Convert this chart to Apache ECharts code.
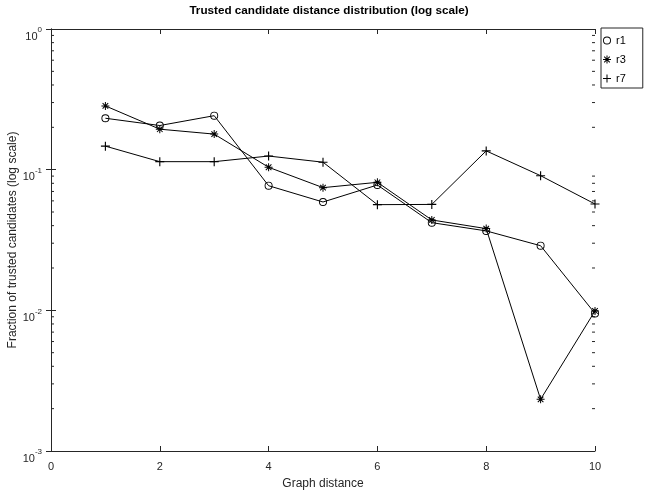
<!DOCTYPE html>
<html>
<head>
<meta charset="utf-8">
<script src="https://cdn.jsdelivr.net/npm/echarts@6/dist/echarts.min.js"></script>
<style>html,body{margin:0;padding:0;background:#fff;}#c{width:645px;height:491px;}</style>
</head>
<body>
<div id="c"></div>
<script>
const distances = [1, 2, 3, 4, 5, 6, 7, 8, 9, 10];
const r1 = [0.232, 0.206, 0.242, 0.0769, 0.0589, 0.0778, 0.042, 0.0367, 0.0288, 0.0095];
const r3 = [0.284, 0.194, 0.179, 0.104, 0.0745, 0.0813, 0.0439, 0.0381, 0.00233, 0.0099];
const r7 = [0.147, 0.114, 0.114, 0.125, 0.113, 0.0564, 0.0566, 0.136, 0.0906, 0.057];
const seriesNames = ['r1', 'r3', 'r7'];
const yTickExponents = {'0.001': '-3', '0.01': '-2', '0.1': '-1', '1': '0'};
const minorMultipliers = [2, 3, 4, 5, 6, 7, 8, 9];
const minorDecades = [0.001, 0.01, 0.1];

const FONT = 'Liberation Sans';
const AX = '#262626';
const ringPath = 'path://M4,0 A4,4 0 1,1 4,8 A4,4 0 1,1 4,0 Z M4,0.9 A3.1,3.1 0 1,0 4,7.1 A3.1,3.1 0 1,0 4,0.9 Z';
const plusPath = 'path://M3.5,0 H4.5 V3.5 H8 V4.5 H4.5 V8 H3.5 V4.5 H0 V3.5 H3.5 Z';
const starPath = 'path://M3.5,0 L4.5,0 L4.5,8 L3.5,8 Z M0,3.5 L8,3.5 L8,4.5 L0,4.5 Z M1.55,0.85 L7.15,6.45 L6.45,7.15 L0.85,1.55 Z M7.15,1.55 L1.55,7.15 L0.85,6.45 L6.45,0.85 Z';

const pairs = arr => distances.map((d, i) => [d, arr[i]]);
const minorData = [];
minorDecades.forEach(dec => minorMultipliers.forEach(m => minorData.push([0, m * dec])));

const chart = echarts.init(document.getElementById('c'), null, {renderer: 'canvas'});
const yAxisBase = {
  type: 'log', logBase: 10, min: 0.001, max: 1, splitNumber: 3,
  axisLine: {show: true, lineStyle: {color: AX, width: 1}},
  axisTick: {show: true, inside: true, length: 5, lineStyle: {color: AX}},
  splitLine: {show: false}
};
const xAxisBase = {
  type: 'value', min: 0, max: 10, interval: 2,
  axisLine: {show: true, lineStyle: {color: AX, width: 1}},
  axisTick: {show: true, inside: true, length: 5, lineStyle: {color: AX}},
  splitLine: {show: false}
};
chart.setOption({
  animation: false,
  backgroundColor: '#fff',
  textStyle: {fontFamily: FONT},
  title: {
    text: 'Trusted candidate distance distribution (log scale)',
    left: 324, top: 0, textAlign: 'center',
    textStyle: {fontFamily: FONT, fontSize: 11.7, fontWeight: 'bold', color: '#000'}
  },
  grid: {left: 51, right: 50, top: 29, bottom: 40, containLabel: false, outerBoundsMode: 'none'},
  legend: {
    orient: 'vertical', left: 601, top: 28,
    borderColor: AX, borderWidth: 1, backgroundColor: '#fff',
    padding: [7, 17, 4, 2], itemWidth: 8, itemHeight: 8, itemGap: 8,
    textStyle: {fontFamily: FONT, fontSize: 11, color: '#000'},
    data: [
      {name: 'r1', icon: ringPath, itemStyle: {borderWidth: 0, color: '#000'}},
      {name: 'r3', icon: starPath, itemStyle: {borderWidth: 0, color: '#000'}},
      {name: 'r7', icon: plusPath, itemStyle: {borderWidth: 0, color: '#000'}}
    ]
  },
  xAxis: [
    Object.assign({}, xAxisBase, {
      position: 'bottom',
      name: 'Graph distance', nameLocation: 'middle', nameGap: 27, nameMoveOverlap: false,
      nameTextStyle: {fontFamily: FONT, fontSize: 12, color: AX},
      axisLabel: {fontFamily: FONT, fontSize: 11, color: AX, margin: 10}
    }),
    Object.assign({}, xAxisBase, {position: 'top', axisLabel: {show: false}})
  ],
  yAxis: [
    Object.assign({}, yAxisBase, {
      position: 'left',
      name: 'Fraction of trusted candidates (log scale)', nameLocation: 'middle', nameGap: 32, nameMoveOverlap: false,
      nameTextStyle: {fontFamily: FONT, fontSize: 12, color: AX},
      axisLabel: {
        margin: 9, color: AX, padding: [10, 0, 0, 0],
        formatter: v => {
          const key = String(+v.toPrecision(3));
          return '{b|10}{s|' + (yTickExponents[key] || '') + '}';
        },
        rich: {
          b: {fontFamily: FONT, fontSize: 11, color: AX, lineHeight: 16, verticalAlign: 'bottom'},
          s: {fontFamily: FONT, fontSize: 8, color: AX, lineHeight: 16, verticalAlign: 'top'}
        }
      }
    }),
    Object.assign({}, yAxisBase, {position: 'right', axisLabel: {show: false}})
  ],
  series: [
    {
      name: 'r1', type: 'line', data: pairs(r1), symbol: ringPath, symbolSize: 8,
      lineStyle: {color: '#000', width: 1}, itemStyle: {color: '#000', borderWidth: 0},
      z: 3
    },
    {
      name: 'r3', type: 'line', data: pairs(r3), symbol: starPath, symbolSize: 8,
      lineStyle: {color: '#000', width: 1}, itemStyle: {color: '#000', borderWidth: 0},
      z: 3
    },
    {
      name: 'r7', type: 'line', data: pairs(r7), symbol: plusPath, symbolSize: 9,
      lineStyle: {color: '#000', width: 1}, itemStyle: {color: '#000', borderWidth: 0},
      z: 3
    },
    {
      type: 'custom', silent: true, clip: false, data: minorData,
      encode: {x: 0, y: 1},
      renderItem: (params, api) => {
        const v = api.value(1);
        const l = api.coord([0, v]);
        const r = api.coord([10, v]);
        return {
          type: 'group',
          children: [
            {type: 'line', shape: {x1: l[0], y1: l[1], x2: l[0] + 3, y2: l[1]}, style: {stroke: AX, lineWidth: 1}},
            {type: 'line', shape: {x1: r[0], y1: r[1], x2: r[0] - 3, y2: r[1]}, style: {stroke: AX, lineWidth: 1}}
          ]
        };
      },
      z: 2
    }
  ]
});
</script>
</body>
</html>
